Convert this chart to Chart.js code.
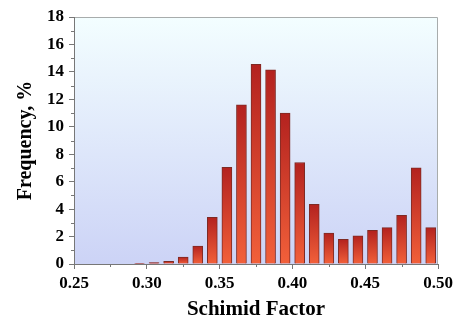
<!DOCTYPE html>
<html>
<head>
<meta charset="utf-8">
<script src="https://cdn.jsdelivr.net/npm/chart.js@4.4.1/dist/chart.umd.min.js"></script>
<style>
  html, body { margin: 0; padding: 0; background: #fff; }
  #wrap { width: 463px; height: 322px; }
</style>
</head>
<body>
<div id="wrap"><canvas id="chart" width="463" height="322"></canvas></div>
<script>
// bin centres of the histogram (Schmid factor)
const binCenters = [0.285, 0.295, 0.305, 0.315, 0.325, 0.335, 0.345, 0.355, 0.365, 0.375, 0.385,
                    0.395, 0.405, 0.415, 0.425, 0.435, 0.445, 0.455, 0.465, 0.475, 0.485, 0.495];
// frequency, %
const frequency = [0, 0.05, 0.1, 0.2, 0.5, 1.3, 3.4, 7.05, 11.6, 14.55, 14.15,
                   11.0, 7.4, 4.35, 2.25, 1.8, 2.05, 2.45, 2.65, 3.55, 7.0, 2.65];
const xTicks = [0.25, 0.30, 0.35, 0.40, 0.45, 0.50];
const yTicks = [0, 2, 4, 6, 8, 10, 12, 14, 16, 18];

const serif = '"Liberation Serif", "Times New Roman", serif';

// background of the plot area + frame + minor ticks
const plotFrame = {
    id: 'plotFrame',
    beforeDraw(chart) {
        const a = chart.chartArea;
        const ctx = chart.ctx;
        const g = ctx.createLinearGradient(0, a.top, 0, a.bottom);
        g.addColorStop(0, '#f3feff');
        g.addColorStop(1, '#ccd3f6');
        ctx.save();
        ctx.fillStyle = g;
        ctx.fillRect(a.left, a.top, a.right - a.left, a.bottom - a.top);
        ctx.strokeStyle = '#a8acac';
        ctx.lineWidth = 1;
        ctx.beginPath();
        ctx.moveTo(a.left, a.top + 0.5);
        ctx.lineTo(a.right - 0.5, a.top + 0.5);
        ctx.lineTo(a.right - 0.5, a.bottom);
        ctx.stroke();
        ctx.restore();
    },
    afterDraw(chart) {
        const ctx = chart.ctx;
        const xs = chart.scales.x, ys = chart.scales.y;
        const a = chart.chartArea;
        ctx.save();
        ctx.strokeStyle = '#777';
        ctx.lineWidth = 1;
        ctx.beginPath();
        for (let i = 0; i < xTicks.length - 1; i++) {
            const px = Math.round(xs.getPixelForValue((xTicks[i] + xTicks[i + 1]) / 2)) + 0.5;
            ctx.moveTo(px, a.bottom);
            ctx.lineTo(px, a.bottom + 3);
        }
        for (let i = 0; i < yTicks.length - 1; i++) {
            const py = Math.round(ys.getPixelForValue((yTicks[i] + yTicks[i + 1]) / 2)) + 0.5;
            ctx.moveTo(a.left, py);
            ctx.lineTo(a.left - 3, py);
        }
        ctx.stroke();
        ctx.restore();
    }
};

function barGradient(context) {
    const chart = context.chart;
    if (!chart.chartArea) return '#d94030';
    const ys = chart.scales.y;
    const v = context.raw ? context.raw.y : 0;
    const top = ys.getPixelForValue(v);
    const base = ys.getPixelForValue(0);
    if (!isFinite(top) || base - top < 1) return '#c0392b';
    const g = chart.ctx.createLinearGradient(0, top, 0, base);
    g.addColorStop(0, '#b3221f');
    g.addColorStop(1, '#f2603a');
    return g;
}

function createChart() {
    const ctx = document.getElementById('chart').getContext('2d');
    new Chart(ctx, {
        type: 'bar',
        data: {
            datasets: [{
                data: binCenters.map((c, i) => ({ x: c, y: frequency[i] })),
                backgroundColor: barGradient,
                borderColor: '#7e2a24',
                borderWidth: 1,
                barThickness: 10
            }]
        },
        options: {
            responsive: false,
            animation: false,
            devicePixelRatio: 1,
            layout: { padding: { top: 17, right: 25, left: 0, bottom: 0 } },
            plugins: { legend: { display: false }, tooltip: { enabled: false } },
            scales: {
                x: {
                    type: 'linear',
                    min: 0.25,
                    max: 0.50,
                    offset: false,
                    afterBuildTicks: s => { s.ticks = xTicks.map(v => ({ value: v })); },
                    afterFit: s => { s.height = 58; },
                    ticks: {
                        callback: v => v.toFixed(2),
                        color: '#000',
                        padding: 4,
                        maxRotation: 0,
                        font: { family: serif, size: 17, weight: 'bold' }
                    },
                    grid: { drawOnChartArea: false, offset: false, tickLength: 5, color: '#777' },
                    border: { color: '#777', width: 1 },
                    title: {
                        display: true,
                        text: 'Schimid Factor',
                        color: '#000',
                        padding: { top: 0, bottom: 0 },
                        font: { family: serif, size: 21, weight: 'bold' }
                    }
                },
                y: {
                    min: 0,
                    max: 18,
                    afterBuildTicks: s => { s.ticks = yTicks.map(v => ({ value: v })); },
                    afterFit: s => { s.width = 74; },
                    ticks: {
                        color: '#000',
                        padding: 5,
                        font: { family: serif, size: 17, weight: 'bold' }
                    },
                    grid: { drawOnChartArea: false, tickLength: 5, color: '#777' },
                    border: { color: '#777', width: 1 },
                    title: {
                        display: true,
                        text: 'Frequency, %',
                        color: '#000',
                        padding: { top: 14, bottom: 0 },
                        font: { family: serif, size: 20, weight: 'bold' }
                    }
                }
            }
        },
        plugins: [plotFrame]
    });
}

document.addEventListener('DOMContentLoaded', function () {
    createChart();
});
</script>
</body>
</html>
